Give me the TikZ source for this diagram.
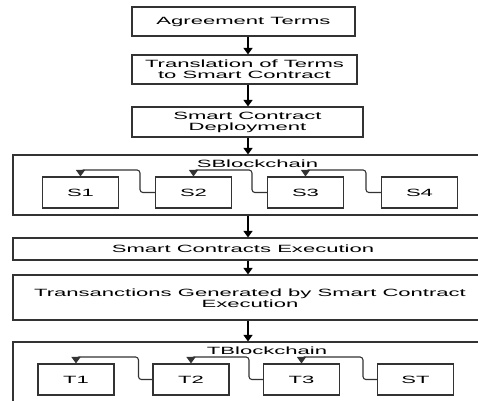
\documentclass[tikz,border=0pt]{standalone}
\usepackage{fontspec}
\setmainfont{Liberation Sans}[FakeStretch=2.1]
\usepackage{tikz}
\usetikzlibrary{positioning,arrows.meta,calc}

\begin{document}
\begin{tikzpicture}
	[x=1pt,y=-1pt,
	stage/.style={rectangle,draw=black!80,line width=1.1pt,align=center,inner sep=0pt},
	blk/.style={rectangle,draw=black!80,line width=1.1pt,minimum width=76pt,minimum height=31pt,inner sep=0pt},
	flow/.style={-{Triangle[width=9pt,length=6.5pt]},line width=1.1pt,draw=black},
	link/.style={-{Triangle[width=9pt,length=6.5pt]},line width=1.1pt,draw=black!80,rounded corners=3pt},
	font=\fontsize{10.5}{11}\selectfont]
	\useasboundingbox (0,0) rectangle (478,400);
	\clip (0,0) rectangle (478,400);
	\coordinate (axis) at (248,0);
	%TOP STAGES
	\node[stage,minimum width=223pt,minimum height=29pt] (agree) at (243.5,21.5) {Agreement Terms};
	\node[stage,minimum width=225pt,minimum height=29pt] (trans) at (244.5,69.5) {Translation of Terms\\to Smart Contract};
	\node[stage,minimum width=231pt,minimum height=30pt] (deploy) at (247.5,122) {Smart Contract\\Deployment};
	%SBLOCKCHAIN
	\node[stage,minimum width=482pt,minimum height=60pt] (sbc) at (254,185) {};
	\node (sbclbl) at (257.5,163.5) {SBlockchain};
	\foreach \n/\x in {1/80.5,2/193.5,3/305.5,4/419.5}
	\node[blk] (s\n) at (\x,192.5) {S\n};
	\foreach \i/\j in {2/1,3/2,4/3}
	\draw[link] (s\i.west) -- ++(-15,0) |- ([yshift=6.5pt]s\j.north) -- (s\j.north);
	%EXECUTION
	\node[stage,minimum width=482pt,minimum height=22pt] (exec) at (254,249) {};
	\node (execlbl) at (243,248.5) {Smart Contracts Execution};
	\node[stage,minimum width=482pt,minimum height=45pt] (gen) at (254,297.5) {};
	\node[align=center] (genlbl) at (250,298) {Transanctions Generated by Smart Contract\\Execution};
	%TBLOCKCHAIN
	\node[stage,minimum width=482pt,minimum height=88pt] (tbc) at (254,386) {};
	\node (tbclbl) at (267,350.5) {TBlockchain};
	\foreach \n/\x/\lbl in {1/76/T1,2/191/T2,3/301.5/T3,4/415.5/ST}
	\node[blk] (t\n) at (\x,379.5) {\lbl};
	\foreach \i/\j in {2/1,3/2,4/3}
	\draw[link] (t\i.west) -- ++(-14,0) |- ([yshift=6.5pt]t\j.north) -- (t\j.north);
	%MAIN FLOW
	\draw[flow] (agree.south -| axis) -- (trans.north -| axis);
	\draw[flow] (trans.south -| axis) -- (deploy.north -| axis);
	\draw[flow] (deploy.south -| axis) -- (sbc.north -| axis);
	\draw[flow] (sbc.south -| axis) -- (exec.north -| axis);
	\draw[flow] (exec.south -| axis) -- (gen.north -| axis);
	\draw[flow] (gen.south -| axis) -- (tbc.north -| axis);
\end{tikzpicture}
\end{document}
